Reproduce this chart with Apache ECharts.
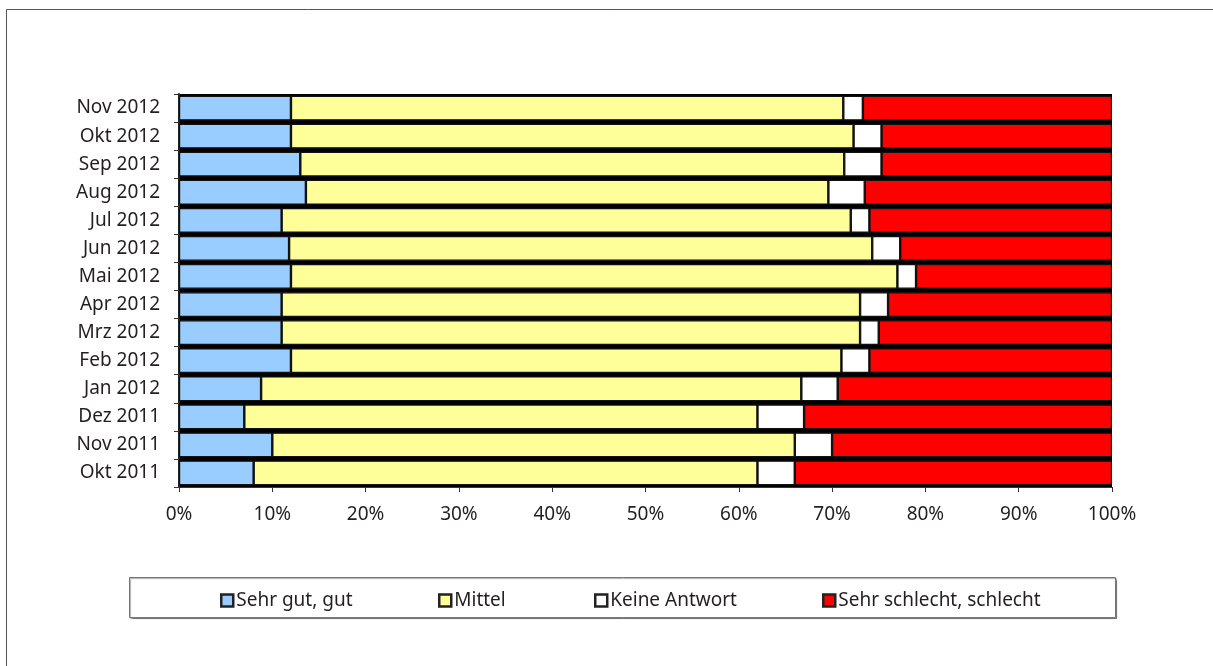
<!DOCTYPE html>
<html>
<head>
<meta charset="utf-8">
<script src="https://cdn.jsdelivr.net/npm/echarts@6/dist/echarts.min.js"></script>
<style>
html,body{margin:0;padding:0;background:#fff;}
#chart{width:1213px;height:666px;}
</style>
</head>
<body>
<div id="chart"></div>
<script>
// Categories, top to bottom
const categories = ['Nov 2012','Okt 2012','Sep 2012','Aug 2012','Jul 2012','Jun 2012','Mai 2012','Apr 2012','Mrz 2012','Feb 2012','Jan 2012','Dez 2011','Nov 2011','Okt 2011'];
const seriesNames = ['Sehr gut, gut','Mittel','Keine Antwort','Sehr schlecht, schlecht'];
const sehrGut   = [12, 12, 13, 13.6, 11, 11.8, 12, 11, 11, 12, 8.8, 7, 10, 8];
const mittel    = [59.2, 60.3, 58.3, 56, 61, 62.5, 65, 62, 62, 59, 57.9, 55, 56, 54];
const keineAnt  = [2.1, 3, 4, 3.9, 2, 3, 2, 3, 2, 3, 3.9, 5, 4, 4];
const schlecht  = [26.7, 24.7, 24.7, 26.5, 26, 22.7, 21, 24, 25, 26, 29.4, 33, 30, 34];
const xTicks = [0,10,20,30,40,50,60,70,80,90,100];

const colors = ['#99CCFF','#FFFF99','#FFFFFF','#FF0000'];
const values = [sehrGut, mittel, keineAnt, schlecht];
const textColor = '#231f20';
const font = 'Noto Sans';

const chart = echarts.init(document.getElementById('chart'), null, {renderer:'canvas'});

const legendLefts = [215, 433, 589, 817];

const option = {
  animation: false,
  backgroundColor: '#fff',
  textStyle: {fontFamily: font},
  grid: {left: 179, top: 94, width: 933, height: 393, show: true, backgroundColor: '#000', borderWidth: 0, containLabel: false},
  xAxis: {
    type: 'value', min: 0, max: 100, interval: 10,
    axisLine: {show: true, lineStyle: {color: '#333', width: 1}},
    axisTick: {show: true, length: 5, lineStyle: {color: '#333'}},
    splitLine: {show: false},
    axisLabel: {fontSize: 19, color: textColor, fontFamily: font, margin: 18,
      formatter: function(v){ return xTicks.indexOf(v) >= 0 ? v + '%' : ''; }}
  },
  yAxis: {
    type: 'category', data: categories, inverse: true,
    axisLine: {show: true, lineStyle: {color: '#222', width: 2}},
    axisTick: {show: true, length: 5, lineStyle: {color: '#333'}},
    axisLabel: {fontSize: 19, color: textColor, fontFamily: font, margin: 19}
  },
  legend: seriesNames.map(function(n, i){
    return {
      data: [n], left: legendLefts[i], top: 586, orient: 'horizontal',
      itemWidth: 12, itemHeight: 12, itemGap: 4, icon: 'rect',
      itemStyle: {borderColor: '#222', borderWidth: 2.5},
      textStyle: {fontSize: 19, color: textColor, fontFamily: font, padding: [0,0,0,-2]},
      selectedMode: false
    };
  }),
  graphic: [
    {type: 'rect', shape: {x: 6.5, y: 9.5, width: 1230, height: 700}, style: {fill: 'none', stroke: '#555', lineWidth: 1}, z: -1},
    {type: 'rect', shape: {x: 129.5, y: 577.5, width: 986, height: 40}, style: {fill: '#fff', stroke: '#777', lineWidth: 1, shadowColor: 'rgba(0,0,0,0.35)', shadowOffsetX: 1, shadowOffsetY: 1, shadowBlur: 1}, z: -1}
  ],
  series: seriesNames.map(function(n, i){
    return {
      name: n, type: 'bar', stack: 'total', data: values[i],
      barCategoryGap: '12%',
      itemStyle: {color: colors[i], borderColor: '#111', borderWidth: 1.2},
      emphasis: {disabled: true}
    };
  })
};
chart.setOption(option);
</script>
</body>
</html>
